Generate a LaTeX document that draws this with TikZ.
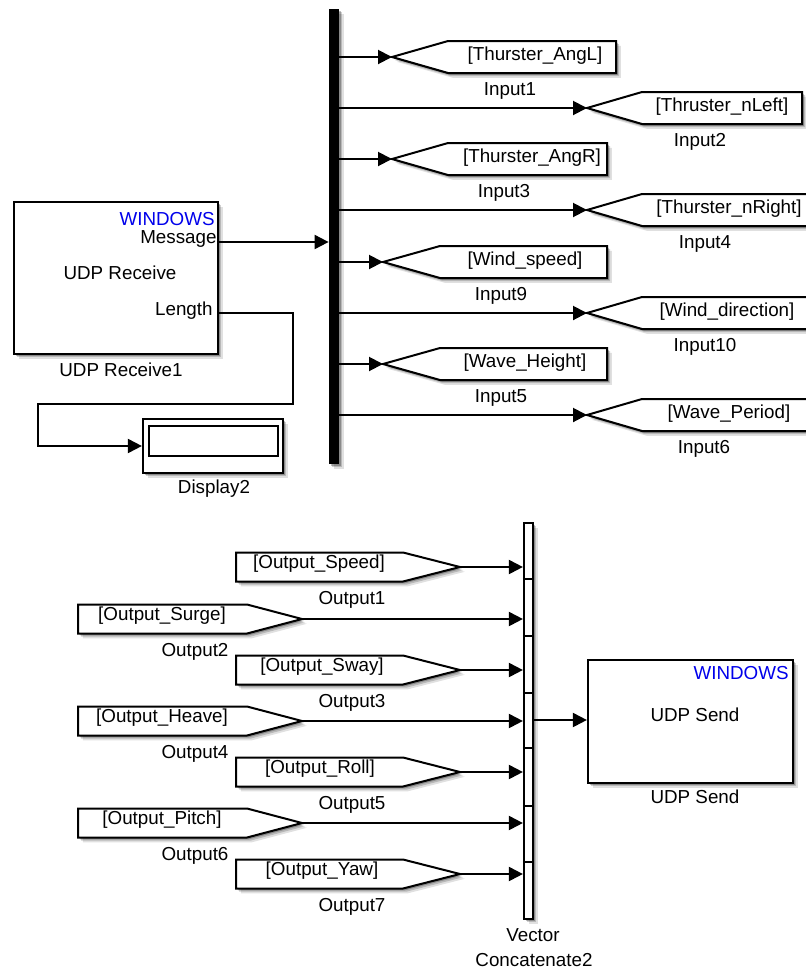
\documentclass[tikz,border=0pt]{standalone}
\usepackage{fontspec}
\setmainfont{Liberation Sans}
\usepackage{xcolor}
\usetikzlibrary{arrows.meta,positioning,calc,shadows}

\definecolor{winblue}{RGB}{0,0,235}

\begin{document}
\begin{tikzpicture}[x=0.5pt, y=-0.5pt,
  every node/.style={font=\fontsize{9.4}{10}\selectfont, inner sep=0pt},
  softshadow/.style={drop shadow={shadow xshift=2.4pt, shadow yshift=-2.4pt, opacity=0.12, fill=black},
                     drop shadow={shadow xshift=1.6pt, shadow yshift=-1.6pt, opacity=0.18, fill=black},
                     drop shadow={shadow xshift=0.9pt, shadow yshift=-0.9pt, opacity=0.25, fill=black}},
  blk/.style={rectangle, draw, line width=1.1pt, fill=white, softshadow},
  tagbox/.style={draw, line width=1pt, fill=white, softshadow},
  sig/.style={-{Triangle[length=7pt,width=7pt,fill=black]}, line width=1pt},
  wire/.style={line width=1pt}
]
\clip (0,0) rectangle (806,970);

% top half: receive side
\node[blk, minimum width=102pt, minimum height=76pt] (udprx) at (116,278) {};
\node[anchor=base east, text=winblue] (rxwin) at (215,225) {WINDOWS};
\node[anchor=base east] (rxmsg) at (217,243) {Message};
\node[anchor=base] (rxname) at (120,279) {UDP Receive};
\node[anchor=base east] (rxlen) at (213,315) {Length};
\node[anchor=base] (rxlbl) at (121,376) {UDP Receive1};

\node[rectangle, fill=black, minimum width=5pt, minimum height=227.5pt, softshadow] (bus) at (334,236.5) {};

\node[blk, minimum width=70pt, minimum height=27pt] (disp) at (213,446) {};
\node[rectangle, draw, line width=1pt, minimum width=64.5pt, minimum height=15pt] (dispwin) at (213.5,441) {};
\node[anchor=base] (displbl) at (214,493) {Display2};

\coordinate (msg) at (218,242);
\coordinate (len) at (218,313);
\draw[sig] (msg) -- (msg -| bus.west);
\draw[sig] (len) -- (293,313) -- (293,404) -- (38,404) |- (disp.west);

\foreach \n/\y/\tx/\cx/\rx/\tag/\tgx/\lbl/\lbx in {
  in1/57/392/448/616/Thurster\_AngL/535/Input1/510,
  in2/108/587/642/802/Thruster\_nLeft/722/Input2/700,
  in3/159/392/448/607/Thurster\_AngR/532/Input3/504,
  in4/210/587/642/840/Thurster\_nRight/729/Input4/705,
  in9/262/383/440/607/Wind\_speed/525/Input9/501,
  in10/313/587/642/840/Wind\_direction/727/Input10/705,
  in5/364/383/440/607/Wave\_Height/525/Input5/501,
  in6/415/587/642/840/Wave\_Period/729/Input6/704}
{
  \coordinate (\n) at (\tx,\y);
  \draw[tagbox] (\n) -- (\cx,\y-16) -- (\rx,\y-16) -- (\rx,\y+16) -- (\cx,\y+16) -- cycle;
  \node[anchor=base] (\n-tag) at (\tgx,\y+3) {[\tag]};
  \node[anchor=base] (\n-lbl) at (\lbx,\y+38) {\lbl};
  \draw[sig] (bus.east |- \n) -- (\n);
}

% bottom half: send side
\node[rectangle, draw, line width=1.1pt, fill=white, minimum width=4.5pt, minimum height=198pt, softshadow] (vcat) at (528.5,721) {};
\foreach \yy in {579,636,693,748,806,862}
  \draw[wire] (vcat.west |- 0,\yy) -- (vcat.east |- 0,\yy);
\node[anchor=base] (vcatlbl1) at (533,941) {Vector};
\node[anchor=base] (vcatlbl2) at (534,966) {Concatenate2};

\node[blk, minimum width=102.5pt, minimum height=61.5pt] (udptx) at (690.5,721.5) {};
\node[anchor=base east, text=winblue] (txwin) at (789,679) {WINDOWS};
\node[anchor=base] (txname) at (695,721) {UDP Send};
\node[anchor=base] (txlbl) at (695,803) {UDP Send};
\draw[sig] (vcat.east |- 0,720) -- (udptx.west |- 0,720);

\foreach \n/\y/\lx/\sx/\tx/\tag/\tgx/\lbl/\lbx in {
  out1/567/236/403/460/Output\_Speed/319/Output1/352,
  out2/619/78/247/302/Output\_Surge/162/Output2/195,
  out3/670/236/403/460/Output\_Sway/322/Output3/352,
  out4/721/78/247/302/Output\_Heave/162/Output4/195,
  out5/772/236/403/460/Output\_Roll/320/Output5/352,
  out6/823/78/247/302/Output\_Pitch/162/Output6/195,
  out7/874/236/403/460/Output\_Yaw/322/Output7/352}
{
  \coordinate (\n) at (\tx,\y);
  \draw[tagbox] (\n) -- (\sx,\y+14.5) -- (\lx,\y+14.5) -- (\lx,\y-14.5) -- (\sx,\y-14.5) -- cycle;
  \node[anchor=base] (\n-tag) at (\tgx,\y+1) {[\tag]};
  \node[anchor=base] (\n-lbl) at (\lbx,\y+37) {\lbl};
  \draw[sig] (\n) -- (\n -| vcat.west);
}
\end{tikzpicture}
\end{document}
